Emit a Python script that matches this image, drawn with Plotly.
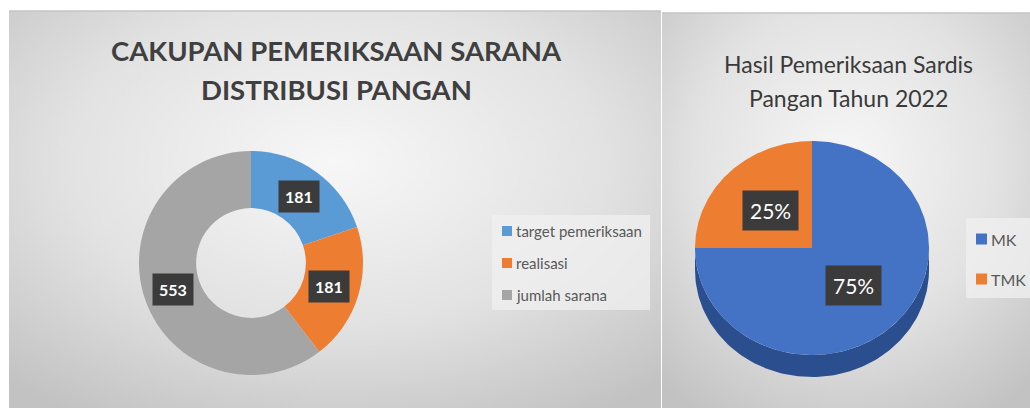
import base64
import numpy as np
import plotly.graph_objects as go

# ---------------- data ----------------
donut_labels = ["target pemeriksaan", "realisasi", "jumlah sarana"]
donut_values = [181, 181, 553]
donut_colors = ["#5b9bd5", "#ed7d31", "#a5a5a5"]

pie_labels = ["MK", "TMK"]
pie_values = [75, 25]
pie_colors = ["#4472c4", "#ed7d31"]
pie_side_colors = ["#2b4f8e", "#b35d1f"]

left_title = ["CAKUPAN PEMERIKSAAN SARANA", "DISTRIBUSI PANGAN"]
right_title = ["Hasil Pemeriksaan Sardis", "Pangan Tahun 2022"]

W, H = 1030, 408
TITLE_FONT = "Lato, sans-serif"
BODY_FONT = "Lato, Open Sans, sans-serif"

fig = go.Figure()


def grad_src(w, h):
    svg = (
        f'<svg xmlns="http://www.w3.org/2000/svg" width="{w}" height="{h}" '
        f'viewBox="0 0 {w} {h}" preserveAspectRatio="none"><defs>'
        '<radialGradient id="g" cx="50%" cy="38%" r="75%">'
        '<stop offset="0" stop-color="#f7f7f7"/>'
        '<stop offset="0.55" stop-color="#e2e2e2"/>'
        '<stop offset="1" stop-color="#c2c2c2"/>'
        '</radialGradient></defs>'
        '<rect width="100%" height="100%" fill="url(#g)"/></svg>'
    )
    return "data:image/svg+xml;base64," + base64.b64encode(svg.encode()).decode()


panels = [(9, 11, 652, 397), (662, 13, 368, 395)]
images = []
shapes = []
for (px, py, pw, ph) in panels:
    images.append(dict(source=grad_src(pw, ph), xref="paper", yref="paper",
                       x=px / W, y=1 - py / H, sizex=pw / W, sizey=ph / H,
                       xanchor="left", yanchor="top", sizing="stretch", layer="below"))
    shapes.append(dict(type="line", xref="x", yref="y", x0=px, x1=px + pw, y0=py, y1=py,
                       line=dict(color="#c4c4c4", width=1.5), layer="below"))

# ---------------- left donut ----------------
cx1, cy1, R1 = 251, 263, 112
fig.add_trace(go.Pie(
    labels=donut_labels, values=donut_values, hole=0.49, sort=False,
    direction="clockwise", rotation=0,
    marker=dict(colors=donut_colors, line=dict(width=0)),
    textinfo="none", showlegend=False, hoverinfo="label+value",
    domain=dict(x=[(cx1 - R1) / W, (cx1 + R1) / W],
                y=[1 - (cy1 + R1) / H, 1 - (cy1 - R1) / H]),
))

annotations = []
tot = sum(donut_values)
cum = 0
for v in donut_values:
    mid = (cum + v / 2) / tot * 2 * np.pi
    cum += v
    r = 82
    annotations.append(dict(
        x=cx1 + r * np.sin(mid), y=cy1 - r * np.cos(mid), xref="x", yref="y",
        text=f"<b>{v}</b>", showarrow=False, bgcolor="#3b3b3b", borderpad=6,
        font=dict(family=BODY_FONT, size=16, color="white")))

# ---------------- right 3D-ish pie ----------------
cx2, cy2, rx, ry, depth = 812, 248, 117, 107, 22
tot2 = sum(pie_values)
bounds = np.cumsum([0] + pie_values) / tot2 * 360.0


def ell(t_deg, dy=0):
    t = np.radians(t_deg)
    return cx2 + rx * np.sin(t), cy2 - ry * np.cos(t) + dy


# side walls (front half: 90..270 deg)
for i in range(len(pie_values)):
    a0, a1 = max(bounds[i], 90), min(bounds[i + 1], 270)
    if a1 <= a0:
        continue
    ts = np.linspace(a0, a1, 120)
    xt, yt = ell(ts)
    xb, yb = ell(ts[::-1], depth)
    fig.add_trace(go.Scatter(
        x=np.concatenate([xt, xb]), y=np.concatenate([yt, yb]), fill="toself",
        mode="lines", line=dict(width=0), fillcolor=pie_side_colors[i],
        hoverinfo="skip", showlegend=False))

# top faces
for i in range(len(pie_values)):
    ts = np.linspace(bounds[i], bounds[i + 1], 200)
    xa, ya = ell(ts)
    fig.add_trace(go.Scatter(
        x=np.concatenate([[cx2], xa, [cx2]]), y=np.concatenate([[cy2], ya, [cy2]]),
        fill="toself", mode="lines", line=dict(width=0), fillcolor=pie_colors[i],
        name=pie_labels[i], hoverinfo="name", showlegend=False))
    mid = (bounds[i] + bounds[i + 1]) / 2
    lx, ly = cx2 + 0.5 * rx * np.sin(np.radians(mid)), cy2 - 0.5 * ry * np.cos(np.radians(mid))
    pct = round(pie_values[i] / tot2 * 100)
    annotations.append(dict(
        x=lx, y=ly, xref="x", yref="y", text=f"{pct}%", showarrow=False,
        bgcolor="#3b3b3b", borderpad=7,
        font=dict(family=BODY_FONT, size=21, color="white")))

# ---------------- titles ----------------
for t, y in zip(left_title, [50, 89]):
    annotations.append(dict(x=336, y=y, xref="x", yref="y", text=f"<b>{t}</b>",
                            showarrow=False,
                            font=dict(family=TITLE_FONT, size=27.5, color="#3f3f3f")))
for t, y in zip(right_title, [64, 98]):
    annotations.append(dict(x=848, y=y, xref="x", yref="y", text=t, showarrow=False,
                            font=dict(family=BODY_FONT, size=23, color="#3a3a3a")))


# ---------------- legends ----------------
def legend(labels, colors, x0, y0, x1, y1, first_y, gap, sq, fsize):
    shapes.append(dict(type="rect", xref="x", yref="y", x0=x0, x1=x1, y0=y0, y1=y1,
                       fillcolor="rgba(240,240,240,0.75)", line=dict(width=0), layer="below"))
    for k, (lab, col) in enumerate(zip(labels, colors)):
        yc = first_y + k * gap
        shapes.append(dict(type="rect", xref="x", yref="y", x0=x0 + 10, x1=x0 + 10 + sq,
                           y0=yc - sq / 2, y1=yc + sq / 2, fillcolor=col, line=dict(width=0)))
        annotations.append(dict(x=x0 + 12 + sq, y=yc, xref="x", yref="y", text=lab,
                                xanchor="left", showarrow=False,
                                font=dict(family=BODY_FONT, size=fsize, color="#595959")))


legend(donut_labels, donut_colors, 492, 215, 650, 310, 231, 32, 10, 15)
legend(pie_labels, pie_colors, 966, 218, 1032, 298, 239, 40, 11, 16)

fig.update_layout(
    width=W, height=H, margin=dict(l=0, r=0, t=0, b=0),
    paper_bgcolor="white", plot_bgcolor="rgba(0,0,0,0)",
    xaxis=dict(range=[0, W], visible=False, fixedrange=True),
    yaxis=dict(range=[H, 0], visible=False, fixedrange=True),
    images=images, shapes=shapes, annotations=annotations, showlegend=False,
)

fig.write_html("out.html", config={"displayModeBar": False},
               post_script="document.body.style.margin='0';")
